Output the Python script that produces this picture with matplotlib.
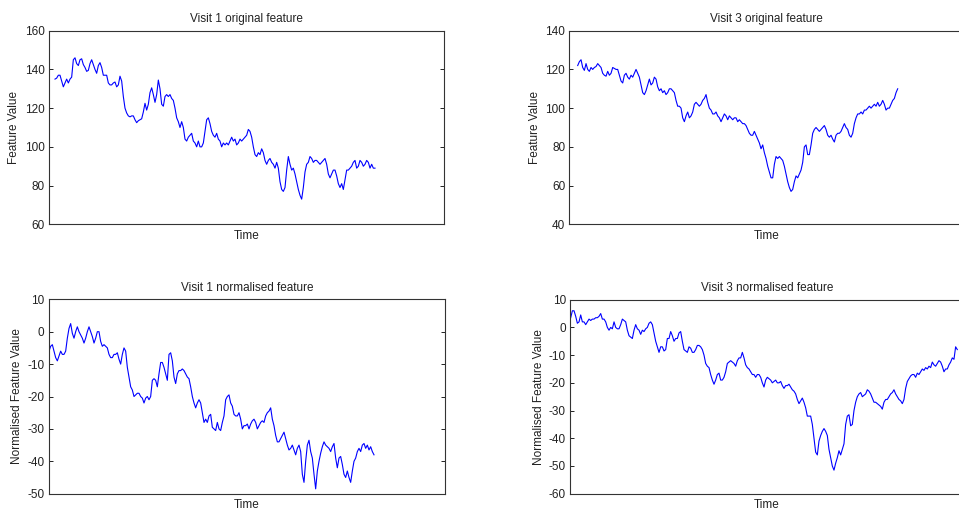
import numpy as np
import matplotlib
matplotlib.use("Agg")
import matplotlib.pyplot as plt

plt.rcParams['font.family'] = ['Liberation Sans', 'DejaVu Sans']

# ---------------- data ----------------
visit1_original = [
    135, 135.5, 137, 137, 134, 131, 133, 135, 133, 135, 136, 145, 146, 143, 142, 145, 145.5,
    142.5, 141, 139, 139.5, 143, 145, 142.5, 140, 138, 142, 143.5, 141, 137, 137, 137, 133,
    132, 132, 133, 133.5, 131, 132, 136.5, 134, 126, 120, 117.5, 116, 115.5, 116, 116, 114,
    112.5, 113.5, 114, 114.5, 118, 122.5, 119,
    122, 128, 130.5, 127, 123, 127, 134.5, 130, 122, 121, 126, 127, 126, 127, 125, 124, 120,
    115, 113, 110, 113, 110, 104, 103, 105, 106, 107, 103, 102, 100, 103, 100, 100, 102, 108,
    114, 115, 112, 108, 106, 105, 107, 104, 103, 100, 102, 101, 102, 101, 103, 105, 103, 104,
    101, 102, 104, 103, 104, 105, 106, 109, 108, 105, 100, 96, 95, 97, 96, 99, 97, 93, 91, 93,
    94, 92, 91, 89, 92, 89, 82, 78, 77, 79, 88, 95, 91, 88, 89, 86, 82, 78, 75, 73, 79, 87,
    91, 92, 95, 94, 92, 93, 93, 92, 91, 92, 93, 94, 91, 86, 84, 86, 88, 88, 85, 81, 79, 81,
    78, 83, 88, 88, 89, 90, 92, 93, 89, 90, 93, 92, 90, 91, 93, 92, 89, 91, 89, 89,
]

visit3_original = [
    122, 124, 125, 121, 119.5, 123, 120, 119, 121, 120, 121, 121.5, 123, 122, 121, 118, 117,
    116.5, 119, 117, 118, 121, 120.5, 120, 120, 117, 114, 113, 117, 118, 116, 115, 117, 116,
    118, 120, 118, 116, 112, 108, 107, 109, 112, 115, 112, 113, 116, 115, 111, 109, 110, 108,
    109, 107, 108, 110, 110, 109, 108, 104, 101, 101, 100, 95, 93, 96, 98, 95, 96, 98, 102,
    103, 102, 101, 102, 104, 105, 107, 103, 100, 99, 97, 97, 98, 96, 95, 93, 95, 97, 96, 94,
    96, 95, 94, 95, 95, 93, 94, 93, 92, 92, 91, 89, 87, 86, 86, 88, 86, 84, 82, 79, 81, 77,
    74, 70, 67, 64, 64, 71, 75, 74, 75, 74, 73, 70, 66, 62, 59, 57, 58, 62, 65, 64, 66, 68,
    72, 80, 81, 76, 76, 81, 87, 89, 90, 89, 88, 89, 90, 91, 89, 86, 85, 86, 84, 82.5, 86, 87,
    87, 88, 90, 92, 90, 89, 86, 85, 87, 92, 95, 97, 97, 98, 97, 99, 99, 100, 101, 100, 101,
    102, 101, 103, 101, 102, 104, 102, 99, 100, 100, 102, 104, 105, 108, 110,
]

visit1_normalised = [
    -6, -4.5, -4, -6, -8, -9, -7.5, -6, -7, -7, -6, -2, 1, 2.5, -0.5, -2, 0, 1.5, 0, -1, -2,
    -3.5, -2, 0, 1.5, 0, -1.5, -3.5, -2, 0, 0, -3, -4.5, -4, -4.5, -5, -7, -8, -8, -7, -7,
    -6.5, -8.5, -10, -7, -5, -6, -11, -14, -17, -18, -20, -19.5, -19, -19, -20, -20.5, -22,
    -20.5, -20, -21, -20, -15, -14.5, -15, -17, -13, -9.5, -9.5, -11, -13, -15, -7, -6.5, -9,
    -14, -16, -13, -12, -12, -11.5, -12, -13, -14, -14.5, -17, -20, -22, -23.5, -22, -21,
    -22, -25, -28, -27, -28, -26, -25.5, -29.5, -30, -30.5, -28, -30, -30.5, -28, -26, -21,
    -20, -19.5, -22, -23, -25.5, -26, -26, -25, -27, -30, -29, -29, -28.5, -30, -28.5, -27.5,
    -27, -28, -30, -29, -28, -27.5, -28, -26, -25, -24.5, -23.5, -27, -29, -32, -34, -34,
    -33, -32, -31, -33, -35, -36.5, -36, -35, -36.5, -38, -36, -35, -37, -44, -46.5, -40, -35,
    -33.5, -37, -39, -44, -48.5, -43, -40, -37.5, -35.5, -34, -35, -35.5, -36, -37, -35.5,
    -34.5, -39, -42, -39, -38.5, -41, -44, -45, -43, -45, -46.5, -43, -40, -39, -37, -36, -37,
    -35, -34.5, -36, -35, -36.5, -35.5, -37, -38,
]

visit3_normalised = [
    3.5, 6, 6, 4, 1.5, 2, 4.5, 2, 2, 1, 2, 3, 2.5, 3, 3, 3.5, 3.5, 4, 5, 3, 3, 2, 0, -1, 0,
    -0.5, 2, 0, -0.5, -0.5, 1, 3, 2.5, 2, -1, -3, -3.5, -4, -1, 1, -0.5, -1, -2.5, -1, -1.5,
    -0.5, 0, 1.5, 2, 1, -2, -5, -7, -9, -7, -7, -8.5, -8, -4, -4, -1.5, -3, -5, -4, -4, -2,
    -1.5, -5, -8, -8.5, -9, -7, -7.5, -9, -9, -8, -6.5, -6.5, -7, -8, -10, -13, -14, -14.5,
    -17, -19, -20.5, -19, -17, -16.5, -19, -19, -18, -16, -13, -12.5, -12, -12.5, -13, -14,
    -12, -11, -11, -9, -11, -13.5, -14.5, -15, -16, -17, -17, -18, -17, -17, -18, -20, -21.5,
    -19, -18, -18.5, -19, -20, -19.5, -19, -20, -20, -19.5, -21, -22, -21, -21, -20.5, -21.5,
    -22.5, -23, -24, -26, -27.5, -26.5, -25.5, -27, -29, -32, -32, -32, -35, -40, -45, -46,
    -41, -39, -37.5, -36.5, -37.5, -39, -44, -47, -50, -51.5, -49, -47, -44.5, -46, -44, -42,
    -35, -32, -31.5, -35.5, -35, -30, -27, -25, -24, -23.5, -25, -24.5, -24, -22.5, -23, -24,
    -25.5, -27, -27, -27.5, -28, -28.5, -29.5, -27, -26, -26, -25, -24, -23.5, -22.5, -24,
    -25, -26, -26.5, -27.5, -26, -22, -19.5, -18.5, -17.5, -17, -17, -18, -16.5, -17, -16,
    -15, -15.5, -14.5, -15, -14, -14.5, -12.5, -13.5, -14, -13, -12, -12.5, -14, -16, -15,
    -15, -13.5, -12.5, -11, -11.5, -7, -8,
]

series = [visit1_original, visit3_original, visit1_normalised, visit3_normalised]
titles = ["Visit 1 original feature", "Visit 3 original feature",
          "Visit 1 normalised feature", "Visit 3 normalised feature"]
ylabels = ["Feature Value", "Feature Value",
           "Normalised Feature Value", "Normalised Feature Value"]
ylims = [(60, 160), (40, 140), (-50, 10), (-60, 10)]
yticks = [list(range(60, 161, 20)), list(range(40, 141, 20)),
          list(range(-50, 11, 10)), list(range(-60, 11, 10))]
xlabel = "Time"

# ---------------- layout (pixel boxes of the axes and data extents) ----------------
W, H = 959, 512
axes_px = [  # left, right, top, bottom
    (48.7, 444.3, 30.7, 224.3),
    (569.3, 964.0, 30.7, 224.3),
    (48.7, 445.0, 299.3, 493.7),
    (570.0, 964.0, 299.7, 493.7),
]
data_px = [  # first and last sample x position
    (55.0, 375.0),
    (577.7, 897.7),
    (49.0, 374.0),
    (570.7, 957.3),
]

fig = plt.figure(figsize=(W / 100, H / 100), dpi=100)
fig.patch.set_facecolor("white")

for i, vals in enumerate(series):
    l, r, t, b = axes_px[i]
    ax = fig.add_axes([l / W, 1 - b / H, (r - l) / W, (b - t) / H])
    y = np.asarray(vals, dtype=float)
    n = len(y)
    x = np.arange(n)
    d0, d1 = data_px[i]
    step = (d1 - d0) / (n - 1)
    ax.plot(x, y, color=(0, 0, 1), lw=0.8)
    ax.set_xlim(-(d0 - l) / step, (r - d0) / step)
    ax.set_ylim(*ylims[i])
    ax.set_yticks(yticks[i])
    ax.set_yticklabels([str(v) for v in yticks[i]])
    ax.set_xticks([])
    ax.tick_params(axis="y", direction="in", length=3, width=0.7, left=True, right=True,
                   labelsize=8.5, pad=3, colors="#222222")
    for sp in ax.spines.values():
        sp.set_linewidth(0.8)
        sp.set_color("#333333")
    ax.set_title(titles[i], fontsize=8.5, pad=6, color="#222222")
    ax.set_ylabel(ylabels[i], fontsize=8.5, labelpad=3, color="#222222")
    ax.set_xlabel(xlabel, fontsize=8.5, labelpad=4, color="#222222")

fig.savefig("out.png", dpi=100, facecolor="white")
